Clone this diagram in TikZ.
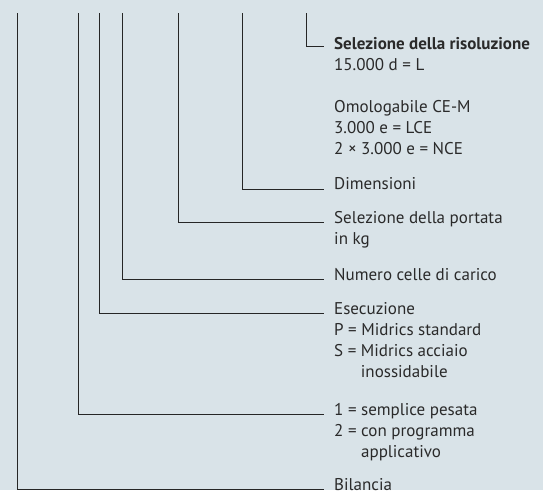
\documentclass[tikz,border=0pt]{standalone}
\usepackage{fontspec}
\setmainfont{PT Sans}
\usetikzlibrary{positioning}
\definecolor{bgblue}{HTML}{D9E3E8}
\definecolor{txtgray}{HTML}{2A2A2A}

\newcommand{\labrows}[1]{\begin{tabular}[t]{@{}l@{}}#1\end{tabular}}

\tikzset{lbl/.style={anchor=base west, inner sep=0pt, text=txtgray, font=\fontsize{17}{21}\selectfont},
lead/.style={line width=1pt, draw=black!85}}

\begin{document}
\begin{tikzpicture}[x=1pt,y=-1pt]
\fill [bgblue] (0,0) rectangle (543,490);
\useasboundingbox (0,0) rectangle (543,490);

\node [lbl] (res) at (334,49) {\labrows{\textbf{Selezione della risoluzione}\\15.000 d = L\\[21pt]Omologabile CE-M\\3.000 e = LCE\\2 × 3.000 e = NCE}};
\node [lbl] (dim) at (334,189) {Dimensioni};
\node [lbl] (port) at (334,223) {\labrows{Selezione della portata\\in kg}};
\node [lbl] (celle) at (334,280) {Numero celle di carico};
\node [lbl] (exec) at (334,314) {\labrows{Esecuzione\\P = Midrics standard\\S = Midrics acciaio\\\hphantom{S = }inossidabile}};
\node [lbl] (prog) at (334,415) {\labrows{1 = semplice pesata\\2 = con programma\\\hphantom{2 = }applicativo}};
\node [lbl] (bil) at (334,490.5) {Bilancia};

\coordinate (tbil) at (17,13);
\coordinate (tprog) at (78,13);
\coordinate (texec) at (99,13);
\coordinate (tcelle) at (122.5,13);
\coordinate (tport) at (178,13);
\coordinate (tdim) at (242,13);
\coordinate (tres) at (306,13);

\draw [lead] (tbil) |- ([shift={(-10pt,1.5pt)}]bil.base west);
\draw [lead] (tprog) |- ([shift={(-10pt,1pt)}]prog.base west);
\draw [lead] (texec) |- ([shift={(-10pt,1pt)}]exec.base west);
\draw [lead] (tcelle) |- ([shift={(-10pt,1pt)}]celle.base west);
\draw [lead] (tport) |- ([shift={(-10pt,1pt)}]port.base west);
\draw [lead] (tdim) |- ([shift={(-10pt,0pt)}]dim.base west);
\draw [lead] (tres) |- ([shift={(-10pt,3pt)}]res.base west);
\end{tikzpicture}
\end{document}
